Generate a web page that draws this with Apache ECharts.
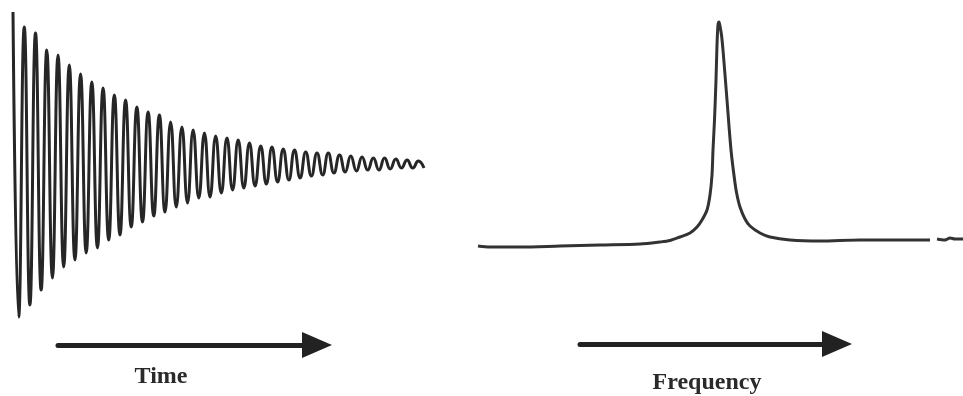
<!DOCTYPE html>
<html><head><meta charset="utf-8">
<script src="https://cdn.jsdelivr.net/npm/echarts@6/dist/echarts.min.js"></script>
<style>html,body{margin:0;padding:0;background:#fff}#c{width:963px;height:396px}</style>
</head><body><div id="c"></div>
<script>
// Free induction decay: amplitude of each maximum and each minimum
const fidPeaks = [153, 138, 132, 115, 110, 100, 91, 83, 77, 70, 65, 58, 53, 50,
  43, 38, 35, 32, 29, 27, 25, 22, 19, 18, 16, 15, 13, 12, 12, 10, 9, 8, 7, 7, 6, 5, 4];
const fidTroughs = [152, 140, 125, 113, 102, 95, 88, 83, 75, 70, 62, 57, 51,
  47, 42, 38, 33, 32, 28, 25, 23, 21, 19, 17,
  15, 13, 11, 10, 8, 7, 6, 5, 5, 4, 3, 3, 3];

// Spectrum after Fourier transform
const specFreq = [0, 12, 42, 82, 122, 162, 182, 192, 202, 212, 219, 224, 229, 232, 234, 235, 236.5, 238, 239, 240, 241, 242, 243.5, 245, 249, 253, 257, 259, 262, 267, 272, 282, 292, 312, 342, 382, 422, 452, 455, 459, 467, 472, 477, 485];
const specIntensity = [4, 3, 3, 4, 5, 6, 8, 9.5, 13, 17, 23, 30, 40, 55, 75, 100, 130, 170, 205, 225, 228, 224, 215, 200, 150, 100, 67, 55, 43, 31, 24, 17, 13, 10, 9, 10, 10, 10, null, 11, 10, 12, 11, 11];

const axisNames = ['Time', 'Frequency'];

const fidData = [];
for (let k = 0; k < fidPeaks.length; k++) {
  fidData.push([k, fidPeaks[k]]);
  if (k < fidTroughs.length) fidData.push([k + 0.5, -fidTroughs[k]]);
}
const specData = specFreq.map((f, i) => [f, specIntensity[i]]);

const arrowAxis = (gi, name, gap, pad) => ({
  gridIndex: gi, type: 'value', min: 0, max: 1,
  axisLine: { show: true, onZero: false, symbol: ['none', 'triangle'], symbolSize: [26, 30],
    lineStyle: { color: '#222', width: 5 } },
  axisTick: { show: false }, axisLabel: { show: false }, splitLine: { show: false },
  name: name, nameLocation: 'middle', nameGap: gap,
  nameTextStyle: { fontFamily: 'Liberation Serif', fontWeight: 'bold', fontSize: 24, color: '#2a2a2a', padding: pad }
});

const chart = echarts.init(document.getElementById('c'));
chart.setOption({
  animation: false,
  backgroundColor: '#fff',
  grid: [
    { left: 13, top: 5, width: 411, height: 320 },
    { left: 478, top: 0, width: 485, height: 250 },
    { left: 58, top: 340, width: 259, height: 5 },
    { left: 580, top: 340, width: 257, height: 5 }
  ],
  xAxis: [
    { gridIndex: 0, type: 'value', min: 0, max: 36.5, show: false },
    { gridIndex: 1, type: 'value', min: 0, max: 485, show: false },
    arrowAxis(2, axisNames[0], 20, [0, 53, 0, 0]),
    arrowAxis(3, axisNames[1], 27, [0, 3, 0, 0])
  ],
  yAxis: [
    { gridIndex: 0, type: 'value', min: -160, max: 160, show: false },
    { gridIndex: 1, type: 'value', min: 0, max: 250, show: false },
    { gridIndex: 2, type: 'value', min: 0, max: 1, show: false },
    { gridIndex: 3, type: 'value', min: 0, max: 1, show: false }
  ],
  series: [
    { type: 'line', xAxisIndex: 0, yAxisIndex: 0, data: fidData, smooth: 0.5,
      showSymbol: false, silent: true, lineStyle: { color: '#262626', width: 3 } },
    { type: 'line', xAxisIndex: 1, yAxisIndex: 1, data: specData, smooth: 0.3,
      showSymbol: false, silent: true, connectNulls: false, lineStyle: { color: '#333', width: 3 } }
  ]
});
</script></body></html>
